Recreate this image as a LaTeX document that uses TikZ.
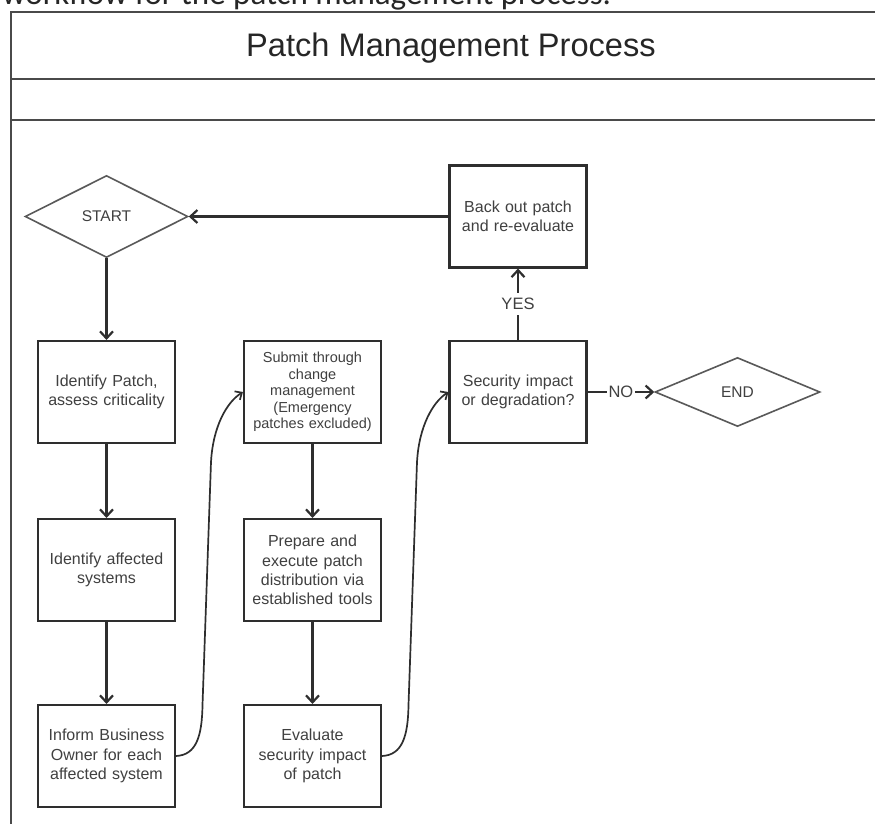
\documentclass[tikz,border=0pt]{standalone}
\usepackage{fontspec}
\setmainfont{Liberation Sans}
\newfontfamily\capfont{Carlito}
\usetikzlibrary{shapes.geometric,arrows.meta}
\definecolor{linegray}{HTML}{2E2E2E}
\definecolor{framegray}{HTML}{4A4A4A}
\definecolor{textgray}{HTML}{404040}
\begin{document}
\begin{tikzpicture}[x=1pt,y=-1pt,
  framel/.style={draw=framegray, line width=2.2pt},
  box/.style={draw=linegray, line width=2.1pt, minimum width=137pt, minimum height=102pt,
    inner sep=0pt, text width=128pt, align=center, text=textgray,
    font=\fontsize{16}{19.3}\selectfont},
  smallbox/.style={box, font=\fontsize{14.5}{16.6}\selectfont},
  decision/.style={draw=black!65, line width=1.6pt, shape=diamond, aspect=2,
    inner sep=0pt, text=textgray, font=\fontsize{15.5}{18}\selectfont},
  flow/.style={draw=linegray, line width=2.2pt, -{Straight Barb[length=7pt,width=13pt]}},
  curve/.style={draw=linegray, line width=1.7pt, -{Straight Barb[length=5.5pt,width=10pt]}},
  lbl/.style={fill=white, inner xsep=2pt, inner ysep=5pt, text=textgray,
    font=\fontsize{16.5}{19}\selectfont}
]
\useasboundingbox (0,0) rectangle (875,823);
\fill[white] (0,0) rectangle (875,823);

% caption cut off at the top, as in the reference
\node[anchor=base west, inner sep=0pt, text=black!85,
  font=\capfont\fontsize{33}{38}\selectfont] (caption) at (2,4)
  {workflow for the patch management process.};

% frame
\draw[framel] (877,12) -- (11,12) -- (11,830);
\draw[framel] (11,79) -- (880,79);
\draw[framel] (11,120) -- (880,120);
\node[anchor=base, inner sep=0pt, text=black!85,
  font=\fontsize{32.6}{38}\selectfont] (title) at (451,56) {Patch Management Process};

% shapes
\node[decision, minimum width=163pt, minimum height=82pt] (start) at (106.5,216.5) {START};
\node[decision, minimum width=165pt, minimum height=69pt] (end) at (737.5,392) {END};

\node[box] (ident) at (106.5,392) {Identify Patch,\\assess criticality};
\node[box] (affect) at (106.5,570) {Identify affected\\systems};
\node[box] (inform) at (106.5,756) {Inform Business\\Owner for each\\affected system};

\node[smallbox] (submit) at (312.5,392) {Submit through\\change\\management\\(Emergency\\patches excluded)};
\node[box] (prep) at (312.5,570) {Prepare and\\execute patch\\distribution via\\established tools};
\node[box] (eval) at (312.5,756) {Evaluate\\security impact\\of patch};

\node[box] (backout) at (518,216.5) {Back out patch\\and re-evaluate};
\node[box] (secimp) at (518,392) {Security impact\\or degradation?};

% straight connectors
\draw[flow] (start) -- (ident);
\draw[flow] (ident) -- (affect);
\draw[flow] (affect) -- (inform);
\draw[flow] (submit) -- (prep);
\draw[flow] (prep) -- (eval);
\draw[flow] (backout) -- (start);
\draw[flow] (secimp) -- node[lbl] (yes) {YES} (backout);
\draw[flow] (secimp) -- node[lbl, inner ysep=2pt] (no) {NO} (end);

% curved connectors
\draw[curve] (inform.east) .. controls (196,755) and (202,737) .. (202.5,705)
  -- (211,462) .. controls (213,426) and (227,402) .. (submit.west);
\draw[curve] (eval.east) .. controls (402,755) and (408,737) .. (408.5,705)
  -- (417,462) .. controls (419,426) and (433,402) .. (secimp.west);
\end{tikzpicture}
\end{document}
